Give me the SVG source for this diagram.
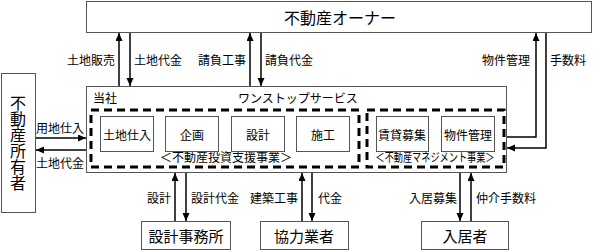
<svg xmlns="http://www.w3.org/2000/svg" width="594" height="251" viewBox="0 0 594 251">
<defs>
<marker id="ah" markerWidth="8" markerHeight="8" refX="8" refY="3.5" orient="auto" markerUnits="userSpaceOnUse">
<path d="M0,0 L8,3.5 L0,7 z" fill="#000"/>
</marker>
<style>
text{font-family:"Noto Sans CJK JP","Noto Sans CJK SC",sans-serif;fill:#000;dominant-baseline:central}
.box{fill:#fff;stroke:#555;stroke-width:1}
.dash{fill:none;stroke:#000;stroke-width:3;stroke-dasharray:8 5}
.big{font-size:16px;text-anchor:middle}
.mid{font-size:15px;text-anchor:middle}
.lab{font-size:12px}
.c{text-anchor:middle}
.e{text-anchor:end}
.arr{fill:none;stroke:#000;stroke-width:1.5;marker-end:url(#ah)}
</style>
</defs>
<g id="owner">
<rect class="box" x="86.5" y="1.5" width="505" height="31"/>
<text class="big" x="340" y="17">不動産オーナー</text>
</g>
<g id="landowner">
<rect class="box" x="1.5" y="73.5" width="34" height="139"/>
<text class="big" x="18" y="143" writing-mode="vertical-rl" style="dominant-baseline:auto">不動産所有者</text>
</g>
<g id="company">
<rect class="box" x="86.5" y="86.5" width="420" height="86"/>
<text class="lab" x="93" y="97">当社</text>
<text class="lab" x="238" y="97">ワンストップサービス</text>
</g>
<g id="invest">
<rect class="dash" x="91" y="110" width="268" height="57"/>
<text class="lab c" x="226" y="156.5" font-size="11.5">＜不動産投資支援事業＞</text>
</g>
<g id="mgmt">
<rect class="dash" x="367" y="110" width="137" height="57"/>
<text class="lab c" x="435" y="156.5" font-size="10.5" textLength="119" lengthAdjust="spacingAndGlyphs">＜不動産マネジメント事業＞</text>
</g>
<g id="n1"><rect class="box" x="100.5" y="116.5" width="53" height="35"/><text class="lab c" x="127" y="134">土地仕入</text></g>
<g id="n2"><rect class="box" x="165.5" y="116.5" width="53" height="35"/><text class="lab c" x="192" y="134">企画</text></g>
<g id="n3"><rect class="box" x="231.5" y="116.5" width="53" height="35"/><text class="lab c" x="258" y="134">設計</text></g>
<g id="n4"><rect class="box" x="296.5" y="116.5" width="53" height="35"/><text class="lab c" x="323" y="134">施工</text></g>
<g id="n5"><rect class="box" x="376.5" y="116.5" width="52" height="35"/><text class="lab c" x="402" y="134">賃貸募集</text></g>
<g id="n6"><rect class="box" x="441.5" y="116.5" width="53" height="35"/><text class="lab c" x="468" y="134">物件管理</text></g>
<g id="design">
<rect class="box" x="141.5" y="221.5" width="89" height="28"/>
<text class="mid" x="186" y="235">設計事務所</text>
</g>
<g id="partner">
<rect class="box" x="260.5" y="221.5" width="88" height="28"/>
<text class="mid" x="304" y="235">協力業者</text>
</g>
<g id="tenant">
<rect class="box" x="421.5" y="221.5" width="87" height="28"/>
<text class="mid" x="465" y="235">入居者</text>
</g>
<g id="connectors">
<path class="arr" d="M119,86 V33"/>
<path class="arr" d="M130,33 V86"/>
<path class="arr" d="M250,86 V33"/>
<path class="arr" d="M261,33 V86"/>
<path class="arr" d="M507,137 H536 V33"/>
<path class="arr" d="M546,33 V148 H507"/>
<path class="arr" d="M36,138 H86"/>
<path class="arr" d="M86,150 H36"/>
<path class="arr" d="M175,221 V173"/>
<path class="arr" d="M186,173 V221"/>
<path class="arr" d="M302,221 V173"/>
<path class="arr" d="M312,173 V221"/>
<path class="arr" d="M460,173 V221"/>
<path class="arr" d="M471,221 V173"/>
<text class="lab e" x="115" y="59">土地販売</text>
<text class="lab" x="134" y="59">土地代金</text>
<text class="lab e" x="246" y="59">請負工事</text>
<text class="lab" x="265" y="59">請負代金</text>
<text class="lab e" x="530" y="59">物件管理</text>
<text class="lab" x="550" y="59">手数料</text>
<text class="lab c" x="60" y="127">用地仕入</text>
<text class="lab c" x="60" y="162">土地代金</text>
<text class="lab e" x="171" y="197">設計</text>
<text class="lab" x="191" y="197">設計代金</text>
<text class="lab e" x="298" y="197">建築工事</text>
<text class="lab" x="318" y="197">代金</text>
<text class="lab e" x="457" y="197">入居募集</text>
<text class="lab" x="476" y="197">仲介手数料</text>
</g>
</svg>
